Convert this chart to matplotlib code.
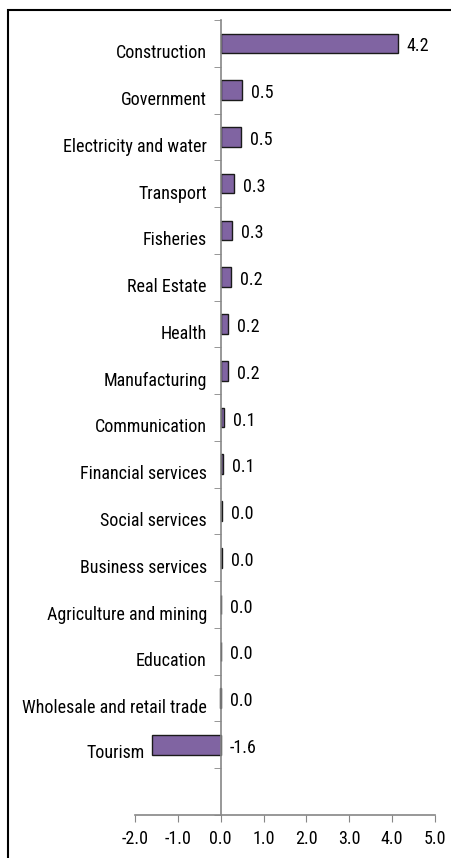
import numpy as np
import matplotlib.pyplot as plt
from matplotlib.patches import Rectangle

plt.rcParams['font.family'] = ['Roboto Condensed', 'Carlito', 'DejaVu Sans']

sectors = ['Construction', 'Government', 'Electricity and water', 'Transport',
           'Fisheries', 'Real Estate', 'Health', 'Manufacturing', 'Communication',
           'Financial services', 'Social services', 'Business services',
           'Agriculture and mining', 'Education', 'Wholesale and retail trade', 'Tourism']
values = [4.13, 0.5, 0.48, 0.3, 0.26, 0.23, 0.18, 0.18, 0.07, 0.05,
          0.02, 0.02, 0.0, 0.0, -0.02, -1.6]
labels = ['4.2', '0.5', '0.5', '0.3', '0.3', '0.2', '0.2', '0.2', '0.1', '0.1',
          '0.0', '0.0', '0.0', '0.0', '0.0', '-1.6']

fs = 13
fig = plt.figure(figsize=(4.52, 8.58), dpi=100)
ax = fig.add_axes([135/452, 43/858, 300/452, 795/858])

n = len(sectors)
ypos = np.arange(n, 0, -1)
ax.barh(ypos, values, height=0.42, color='#8064A2', edgecolor='#1a1a1a', linewidth=1)

for y, v, lab in zip(ypos, values, labels):
    ax.annotate(lab, (max(v, 0), y), xytext=(9, -3), textcoords='offset pixels',
                ha='left', va='center', fontsize=fs)

ax.set_xlim(-2, 5)
ax.set_ylim(-0.5, n + 0.5)
ax.set_xticks(np.arange(-2, 6, 1))
ax.set_xticklabels([f'{t:.1f}' for t in np.arange(-2, 6, 1)])
# category labels sit a little below the bar centre, as in the original
ax.set_yticks(ypos - 0.17)
# Tourism label sits left of its negative bar, drawn separately below
ax.set_yticklabels(sectors[:-1] + [''])
ax.set_yticks(np.arange(-0.5, n + 1, 1), minor=True)
ax.tick_params(axis='y', which='major', length=0, pad=10, labelsize=fs)
ax.tick_params(axis='y', which='minor', length=5, color='#868686', direction='out')
ax.tick_params(axis='x', length=5, color='#868686', direction='out', pad=6, labelsize=fs)
ax.annotate(sectors[-1], (values[-1], ypos[-1]), xytext=(-7, -8), textcoords='offset pixels',
            ha='right', va='center', fontsize=fs)

for s in ['top', 'right']:
    ax.spines[s].set_visible(False)
ax.spines['left'].set_position(('data', 0))
ax.spines['left'].set_color('#868686')
ax.spines['bottom'].set_color('#868686')
ax.spines['left'].set_linewidth(1.2)
ax.spines['bottom'].set_linewidth(1.2)

fig.patches.append(Rectangle((8/452, -0.05), 0.99, 1 - 10/858 + 0.05,
                             transform=fig.transFigure, fill=False,
                             edgecolor='black', linewidth=1.5))

fig.savefig('out.png', dpi=100)
